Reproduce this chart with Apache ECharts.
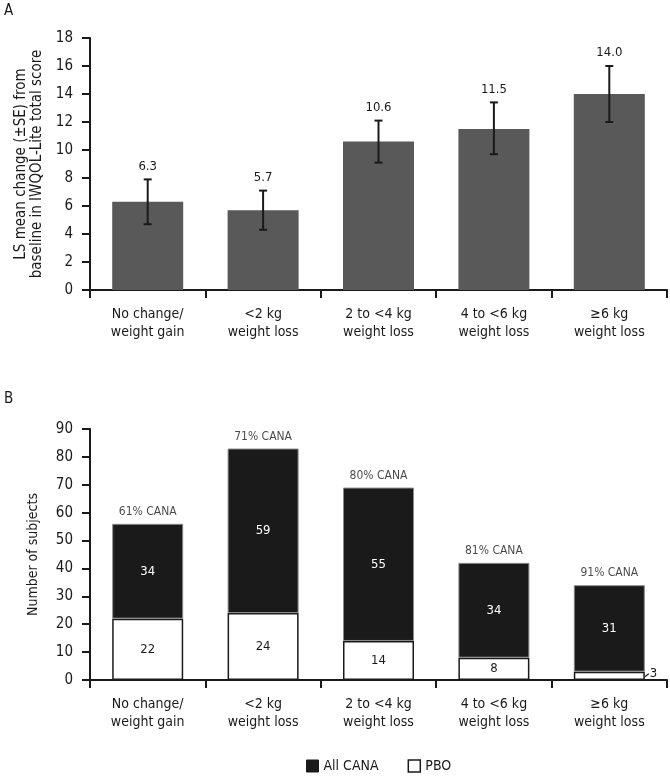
<!DOCTYPE html>
<html><head><meta charset="utf-8">
<script src="https://cdn.jsdelivr.net/npm/echarts@6/dist/echarts.min.js"></script>
<style>html,body{margin:0;padding:0;background:#fff}#c{width:670px;height:776px}</style>
</head><body><div id="c"></div>
<script>
const categories = ['No change/\nweight gain', '<2 kg\nweight loss', '2 to <4 kg\nweight loss', '4 to <6 kg\nweight loss', '≥6 kg\nweight loss'];
const lsMean = [6.3, 5.7, 10.6, 11.5, 14.0];
const seLow = [4.7, 4.3, 9.1, 9.7, 12.0];
const seHigh = [7.9, 7.1, 12.1, 13.4, 16.0];
const canaCount = [34, 59, 55, 34, 31];
const pboCount = [22, 24, 14, 8, 3];
const canaPct = ['61% CANA', '71% CANA', '80% CANA', '81% CANA', '91% CANA'];
const yTopTicks = [0, 18, 2];
const yBotTicks = [0, 90, 10];

const FONT = "'DejaVu Sans Condensed', 'Liberation Sans', sans-serif";
const INK = '#1a1a1a';
const BARW = 71;
const chart = echarts.init(document.getElementById('c'), null, {renderer: 'canvas'});

const axisCommon = {
  axisLine: {show: true, lineStyle: {color: INK, width: 2}},
  axisTick: {show: true, length: 8, lineStyle: {color: INK, width: 2}},
  splitLine: {show: false}
};

const errData = lsMean.map((m, i) => [i, seLow[i], seHigh[i], m]);
const totalData = pboCount.map((p, i) => [i, p + canaCount[i]]);
const smallData = pboCount.map((v, i) => [i, v]).filter(d => d[1] < 5);

chart.setOption({
  animation: false,
  textStyle: {fontFamily: FONT},
  graphic: [
    {type: 'text', left: 4, top: 4, style: {text: 'A', font: '15px ' + FONT, fill: INK}},
    {type: 'text', left: 4, top: 392, style: {text: 'B', font: '15px ' + FONT, fill: INK}}
  ],
  grid: [
    {left: 90, right: 3, top: 38, height: 252, outerBoundsMode: 'none', containLabel: false},
    {left: 90, right: 3, top: 429, height: 251, outerBoundsMode: 'none', containLabel: false}
  ],
  legend: {
    top: 759, left: 306, padding: 0, itemWidth: 12, itemHeight: 12, itemGap: 29,
    icon: 'rect',
    textStyle: {fontFamily: FONT, fontSize: 14, color: INK},
    data: [
      {name: 'All CANA', itemStyle: {color: INK, borderColor: INK, borderWidth: 1}},
      {name: 'PBO', itemStyle: {color: '#fff', borderColor: INK, borderWidth: 1.5}}
    ]
  },
  xAxis: [0, 1].map(g => Object.assign({}, axisCommon, {
    type: 'category', gridIndex: g, data: categories,
    axisTick: {show: true, length: 8, alignWithLabel: false, lineStyle: {color: INK, width: 2}},
    axisLabel: {fontFamily: FONT, fontSize: 14, color: INK, margin: 15, lineHeight: 18, interval: 0}
  })),
  yAxis: [
    Object.assign({}, axisCommon, {
      type: 'value', gridIndex: 0, min: yTopTicks[0], max: yTopTicks[1], interval: yTopTicks[2],
      axisLabel: {fontFamily: FONT, fontSize: 15, color: INK, margin: 17},
      name: 'LS mean change (±SE) from\nbaseline in IWQOL-Lite total score',
      nameLocation: 'middle', nameGap: 33,
      nameTextStyle: {fontFamily: FONT, fontSize: 15, color: INK, lineHeight: 16}
    }),
    Object.assign({}, axisCommon, {
      type: 'value', gridIndex: 1, min: yBotTicks[0], max: yBotTicks[1], interval: yBotTicks[2],
      axisLabel: {fontFamily: FONT, fontSize: 15, color: INK, margin: 17},
      name: 'Number of subjects',
      nameLocation: 'middle', nameGap: 50,
      nameTextStyle: {fontFamily: FONT, fontSize: 14, color: INK}
    })
  ],
  series: [
    {
      type: 'bar', name: 'LS mean', xAxisIndex: 0, yAxisIndex: 0, data: lsMean,
      barWidth: BARW, itemStyle: {color: '#595959'}
    },
    {
      type: 'custom', name: 'SE', xAxisIndex: 0, yAxisIndex: 0, data: errData,
      encode: {x: 0, y: [1, 2]}, z: 5,
      renderItem: function (params, api) {
        const x = api.value(0);
        const lo = api.coord([x, api.value(1)]);
        const hi = api.coord([x, api.value(2)]);
        const cap = 4;
        const st = {stroke: INK, lineWidth: 2};
        return {type: 'group', children: [
          {type: 'line', shape: {x1: lo[0], y1: lo[1], x2: hi[0], y2: hi[1]}, style: st},
          {type: 'line', shape: {x1: hi[0] - cap, y1: hi[1], x2: hi[0] + cap, y2: hi[1]}, style: st},
          {type: 'line', shape: {x1: lo[0] - cap, y1: lo[1], x2: lo[0] + cap, y2: lo[1]}, style: st},
          {type: 'text', x: hi[0], y: hi[1] - 13, style: {
            text: api.value(3).toFixed(1), font: '13px ' + FONT, fill: INK,
            align: 'center', verticalAlign: 'middle'}}
        ]};
      }
    },
    {
      type: 'bar', name: 'PBO', xAxisIndex: 1, yAxisIndex: 1, stack: 'n', data: pboCount,
      barWidth: BARW, itemStyle: {color: '#fff', borderColor: INK, borderWidth: 1.5},
      label: {show: true, fontFamily: FONT, fontSize: 13, color: INK,
        position: 'inside',
        formatter: p => p.value >= 5 ? String(p.value) : ''}
    },
    {
      type: 'bar', name: 'All CANA', xAxisIndex: 1, yAxisIndex: 1, stack: 'n', data: canaCount,
      barWidth: BARW, itemStyle: {color: INK, borderColor: '#8a8a8a', borderWidth: 1},
      label: {show: true, position: 'inside', fontFamily: FONT, fontSize: 13, color: '#fff'}
    },
    {
      type: 'scatter', name: 'pct', xAxisIndex: 1, yAxisIndex: 1, data: totalData,
      symbolSize: 0, silent: true,
      label: {show: true, position: 'top', distance: 6, fontFamily: FONT, fontSize: 12, color: INK,
        formatter: p => canaPct[p.dataIndex]}
    },
    {
      type: 'custom', name: 'small', xAxisIndex: 1, yAxisIndex: 1, data: smallData,
      encode: {x: 0, y: 1}, z: 6, silent: true,
      renderItem: function (params, api) {
        const c = api.coord([api.value(0), api.value(1) / 2]);
        const x0 = c[0] + BARW / 2;
        return {type: 'group', children: [
          {type: 'line', shape: {x1: x0, y1: c[1] + 1, x2: x0 + 4, y2: c[1] - 2}, style: {stroke: INK, lineWidth: 1.2}},
          {type: 'text', x: x0 + 5, y: c[1] - 2, style: {text: String(api.value(1)), font: '13px ' + FONT, fill: INK, align: 'left', verticalAlign: 'middle'}}
        ]};
      }
    }
  ]
});
</script></body></html>
